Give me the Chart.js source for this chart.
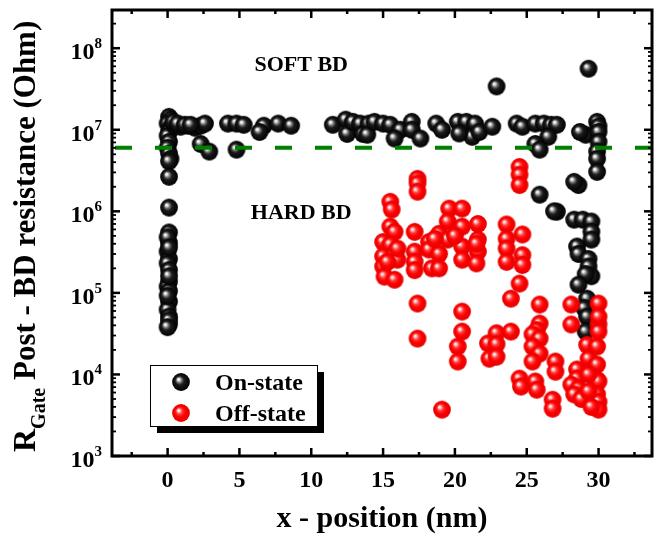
<!DOCTYPE html>
<html>
<head>
<meta charset="utf-8">
<script src="https://cdn.jsdelivr.net/npm/chart.js@4.4.1/dist/chart.umd.min.js"></script>
<style>
  html, body { margin: 0; padding: 0; background: #fff; }
</style>
</head>
<body>
<canvas id="chart" width="657" height="539"></canvas>
<script>
// On-state breakdowns (x in nm, resistance in Ohm)
const onX = [0.1,0.2,0.0,0.2,0.1,0.0,0.1,0.0,0.1,0.2,0.1,0.1,0.1,0.1,0.1,0.0,0.1,0.0,0.1,0.1,0.0,0.1,0.1,0.0,0.1,0.1,
  0.1,0.0,0.1,0.0,0.0,0.1,
  0.5,0.9,1.4,1.9,2.3,2.6,2.3,2.9,4.8,4.2,4.8,5.3,6.7,6.4,7.7,8.6,0.4,0.7,1.2,1.6,
  11.5,12.4,12.5,12.9,13.4,13.6,14.0,13.9,14.4,15.0,15.5,16.2,15.8,17.0,17.0,17.6,18.7,19.1,20.2,20.8,21.4,21.2,21.7,22.6,
  24.3,24.7,25.6,26.2,26.7,27.1,26.5,25.6,25.9,20.3,
  22.9,29.3,
  29.1,28.7,29.9,30.0,30.0,30.0,29.9,29.9,29.9,25.9,27.1,26.9,28.6,28.3,28.3,28.9,29.5,29.5,29.5,28.5,28.6,29.3,29.3,29.5,29.1,28.6,29.2,29.0,29.2,29.1];
const onY = [1.44e7,1.33e7,1.19e7,1.06e7,9.4e6,8.4e6,7.1e6,6.0e6,5.1e6,4.4e6,4.1e6,2.65e6,1.11e6,5.5e5,4.1e5,3.2e5,2.6e5,2.3e5,1.9e5,1.37e5,1.19e5,1.05e5,7.8e4,6.2e4,5.1e4,4.1e4,
  1.6e5,9.2e4,4.6e4,3.8e4,4.8e5,3.6e5,
  1.12e7,1.09e7,1.12e7,1.06e7,1.12e7,1.19e7,6.7e6,5.4e6,5.7e6,1.19e7,1.19e7,1.15e7,1.12e7,9.4e6,1.19e7,1.12e7,1.25e7,1.19e7,1.15e7,1.15e7,
  1.15e7,1.33e7,8.9e6,1.25e7,1.19e7,8.9e6,1.19e7,8.7e6,1.25e7,1.19e7,1.15e7,1.0e7,7.8e6,1.25e7,1.0e7,7.8e6,1.19e7,1.0e7,1.25e7,1.25e7,1.19e7,8.2e6,9.4e6,1.09e7,
  1.19e7,1.09e7,1.19e7,1.19e7,1.15e7,1.15e7,8.2e6,6.7e6,5.7e6,9.0e6,
  3.4e7,5.6e7,
  8.7e6,9.4e6,1.25e7,1.1e7,9.4e6,7.1e6,5.4e6,4.4e6,3.05e6,1.6e6,9.9e5,1.0e6,2.1e6,2.3e6,7.9e5,7.9e5,7.5e5,5.6e5,4.5e5,3.7e5,3.0e5,2.6e5,2.1e5,1.6e5,1.7e5,1.26e5,8.5e4,6.5e4,5.1e4,3.35e4];

// Off-state breakdowns
const offX = [17.4,17.4,17.4,15.5,15.6,15.5,15.8,15.0,15.5,15.0,15.8,16.0,15.0,15.1,15.8,17.2,17.2,17.2,17.2,18.2,18.2,18.9,18.9,18.4,18.9,
  19.6,20.5,19.5,19.5,20.5,21.6,20.5,20.5,21.6,21.6,21.5,21.5,
  16.0,15.3,18.6,20.0,
  17.4,17.4,19.1,20.5,20.5,20.2,20.2,22.9,22.3,22.9,22.4,
  24.5,24.5,24.5,23.6,24.7,23.6,23.6,23.6,24.7,24.7,24.5,
  23.9,25.9,28.1,28.1,30.0,30.0,30.0,23.9,22.9,25.9,25.7,25.4,25.9,25.4,25.9,25.4,27.0,27.0,24.5,24.6,25.6,25.7,26.8,26.8,
  28.5,28.5,28.1,28.6,28.3,28.8,29.2,29.3,29.9,29.9,30.0,29.9,30.0,30.0,29.3,29.3,29.5,30.0,29.9];
const offY = [2.5e6,2.2e6,1.74e6,1.31e6,1.05e6,6.5e5,5.6e5,4.2e5,3.9e5,2.8e5,3.0e5,2.55e5,2.1e5,1.58e5,1.45e5,5.6e5,3.2e5,2.4e5,1.9e5,4.2e5,3.4e5,5.3e5,3.0e5,2.0e5,2.0e5,
  1.08e6,1.08e6,7.5e5,4.5e5,6.5e5,7.0e5,3.7e5,2.55e5,4.5e5,3.2e5,2.3e5,4.0e5,
  3.5e5,2.4e5,4.6e5,5.0e5,
  7.4e4,2.75e4,3.7e3,5.9e4,3.35e4,2.2e4,1.44e4,3.2e4,2.4e4,2.35e4,1.56e4,
  3.5e6,2.8e6,2.1e6,6.9e5,5.2e5,4.6e5,3.5e5,2.4e5,2.9e5,2.2e5,1.3e5,
  8.5e4,7.2e4,7.2e4,4.1e4,7.4e4,4.1e4,3.35e4,3.35e4,1.65e4,4.2e4,3.5e4,3.1e4,2.75e4,2.2e4,1.8e4,1.44e4,1.44e4,1.08e4,8.9e3,7.1e3,8.2e3,6.5e3,4.9e3,3.8e3,
  1.15e4,8.9e3,7.5e3,6.7e3,5.7e3,5.0e3,2.3e4,1.56e4,1.32e4,8.6e3,8.2e3,5.7e3,4.6e3,3.7e3,1.0e4,6.2e3,4.0e3,5.1e4,2.2e4];

const thresholdY = 6.0e6;
const seriesNames = ["On-state", "Off-state"];
const xTicks = [0, 5, 10, 15, 20, 25, 30];
const xMinorTicks = [-2.5, 2.5, 7.5, 12.5, 17.5, 22.5, 27.5, 32.5];
const yTicks = [1e3, 1e4, 1e5, 1e6, 1e7, 1e8];
const xRange = [-3.87, 33.72];
const yRange = [1e3, 2.94e8];
const regionLabels = [
  { text: "SOFT BD", x: 9.3, y: 6.2e7 },
  { text: "HARD BD", x: 9.3, y: 9.4e5 }
];

const FONT = '"Liberation Serif", "Times New Roman", serif';

function ball(stops) {
  const s = 20, r = 8.9;
  const c = document.createElement("canvas");
  c.width = c.height = s;
  const g = c.getContext("2d");
  const grad = g.createRadialGradient(s / 2 - 2.7, s / 2 - 2.9, 0, s / 2, s / 2, r);
  stops.forEach(st => grad.addColorStop(st[0], st[1]));
  g.fillStyle = grad;
  g.beginPath();
  g.arc(s / 2, s / 2, r, 0, Math.PI * 2);
  g.fill();
  return c;
}

const blackBall = ball([[0, "#ffffff"], [0.13, "#e8e8e8"], [0.3, "#777"], [0.5, "#1c1c1c"], [1, "#000"]]);
const redBall = ball([[0, "#ffffff"], [0.13, "#ffd6d6"], [0.35, "#ff3a3a"], [0.6, "#ff0000"], [1, "#e40000"]]);

const toPoints = (xs, ys) => xs.map((v, i) => ({ x: v, y: ys[i] }));

function line(ctx, x1, y1, x2, y2) {
  ctx.beginPath();
  ctx.moveTo(x1, y1);
  ctx.lineTo(x2, y2);
  ctx.stroke();
}

const decorations = {
  id: "decorations",
  afterDraw(chart) {
    const { ctx, chartArea: a, scales: { x, y } } = chart;
    ctx.save();
    ctx.strokeStyle = "#000";
    ctx.fillStyle = "#000";

    // ticks, pointing inward on all four sides
    ctx.lineWidth = 2.5;
    xTicks.forEach(v => {
      const px = x.getPixelForValue(v);
      line(ctx, px, a.bottom, px, a.bottom - 8);
      line(ctx, px, a.top, px, a.top + 8);
    });
    xMinorTicks.forEach(v => {
      const px = x.getPixelForValue(v);
      line(ctx, px, a.bottom, px, a.bottom - 4);
      line(ctx, px, a.top, px, a.top + 4);
    });
    yTicks.forEach(d => {
      const py = y.getPixelForValue(d);
      ctx.lineWidth = 2.5;
      line(ctx, a.left, py, a.left + 8, py);
      line(ctx, a.right, py, a.right - 8, py);
      ctx.lineWidth = 1.8;
      for (let m = 2; m <= 9; m++) {
        const v = m * d;
        if (v > yRange[1]) break;
        const pm = y.getPixelForValue(v);
        line(ctx, a.left, pm, a.left + 4, pm);
        line(ctx, a.right, pm, a.right - 4, pm);
      }
    });

    // frame
    ctx.lineWidth = 3;
    ctx.strokeRect(a.left, a.top, a.right - a.left, a.bottom - a.top);

    // tick labels
    ctx.font = "bold 24px " + FONT;
    ctx.textAlign = "center";
    ctx.textBaseline = "alphabetic";
    xTicks.forEach(v => ctx.fillText(String(v), x.getPixelForValue(v), a.bottom + 31));
    yTicks.forEach(d => {
      const py = y.getPixelForValue(d);
      const exp = String(Math.round(Math.log10(d)));
      ctx.font = "bold 15px " + FONT;
      ctx.textAlign = "right";
      ctx.fillText(exp, a.left - 10, py);
      const ew = ctx.measureText(exp).width;
      ctx.font = "bold 24px " + FONT;
      ctx.fillText("10", a.left - 10 - ew, py + 11);
    });

    // axis titles
    ctx.textAlign = "center";
    ctx.font = "bold 30px " + FONT;
    ctx.fillText("x - position (nm)", (a.left + a.right) / 2, 527);

    ctx.save();
    ctx.translate(35, 452);
    ctx.rotate(-Math.PI / 2);
    ctx.textAlign = "left";
    ctx.font = "bold 32px " + FONT;
    ctx.fillText("R", 0, 0);
    let off = ctx.measureText("R").width;
    ctx.font = "bold 20px " + FONT;
    ctx.fillText("Gate", off, 10);
    off += ctx.measureText("Gate").width;
    ctx.font = "bold 31px " + FONT;
    ctx.fillText(" Post - BD resistance (Ohm)", off, 0);
    ctx.restore();

    // region labels
    ctx.font = "bold 22px " + FONT;
    ctx.textAlign = "center";
    ctx.textBaseline = "middle";
    regionLabels.forEach(r => ctx.fillText(r.text, x.getPixelForValue(r.x), y.getPixelForValue(r.y)));

    // legend with drop shadow
    const lx = a.left + 38, ly = a.bottom - 91, lw = 167, lh = 61;
    ctx.fillStyle = "#000";
    ctx.fillRect(lx + 7, ly + 7, lw, lh);
    ctx.fillStyle = "#fff";
    ctx.fillRect(lx, ly, lw, lh);
    ctx.lineWidth = 1;
    ctx.strokeStyle = "#000";
    ctx.strokeRect(lx + 0.5, ly + 0.5, lw, lh);
    const sprites = [blackBall, redBall];
    ctx.font = "bold 24px " + FONT;
    ctx.textAlign = "left";
    ctx.textBaseline = "alphabetic";
    ctx.fillStyle = "#000";
    seriesNames.forEach((name, i) => {
      const cy = ly + 17 + i * 31;
      const sp = sprites[i];
      ctx.drawImage(sp, lx + 31 - sp.width / 2, cy - sp.height / 2);
      ctx.fillText(name, lx + 65, cy + 8);
    });
    ctx.restore();
  }
};

new Chart(document.getElementById("chart"), {
  type: "scatter",
  data: {
    datasets: [
      {
        type: "line",
        label: "threshold",
        data: [{ x: xRange[0], y: thresholdY }, { x: xRange[1], y: thresholdY }],
        borderColor: "#008000",
        borderWidth: 4,
        borderDash: [17, 23],
        borderDashOffset: -3,
        pointRadius: 0,
        order: 0
      },
      {
        label: seriesNames[1],
        data: toPoints(offX, offY),
        pointStyle: redBall,
        order: 1
      },
      {
        label: seriesNames[0],
        data: toPoints(onX, onY),
        pointStyle: blackBall,
        order: 2
      }
    ]
  },
  options: {
    responsive: false,
    animation: false,
    layout: { padding: { top: 10, right: 1, left: 0, bottom: 0 } },
    plugins: { legend: { display: false }, tooltip: { enabled: false } },
    scales: {
      x: {
        type: "linear",
        min: xRange[0],
        max: xRange[1],
        grid: { display: false },
        border: { display: false },
        ticks: { display: false },
        afterFit: s => { s.height = 83; }
      },
      y: {
        type: "logarithmic",
        min: yRange[0],
        max: yRange[1],
        grid: { display: false },
        border: { display: false },
        ticks: { display: false },
        afterFit: s => { s.width = 112; }
      }
    }
  },
  plugins: [decorations]
});
</script>
</body>
</html>
